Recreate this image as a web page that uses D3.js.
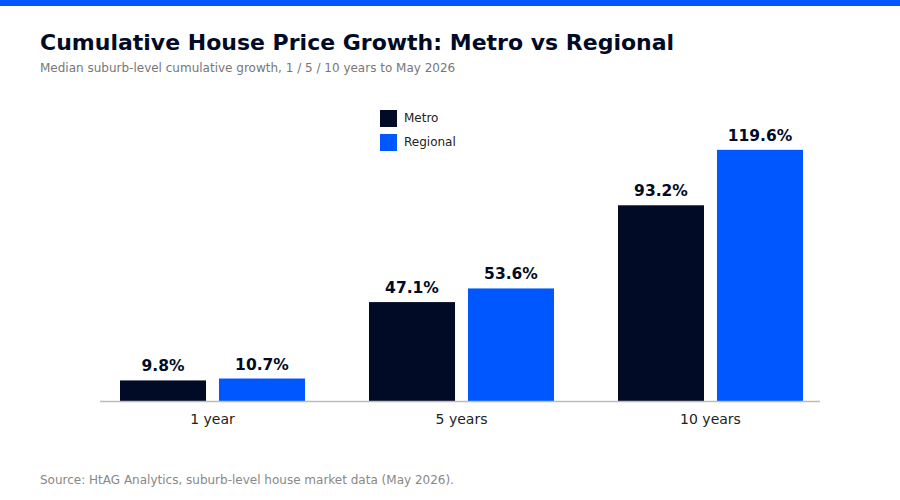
<!DOCTYPE html>
<html>
<head>
<meta charset="utf-8">
<script src="https://cdnjs.cloudflare.com/ajax/libs/d3/7.8.5/d3.min.js"></script>
<style>
  body { margin: 0; background: #fff; }
  text { font-family: "DejaVu Sans", sans-serif; }
</style>
</head>
<body>
<div id="chart"></div>
<script>
// data
var periods = ["1 year", "5 years", "10 years"];
var seriesNames = ["Metro", "Regional"];
var metro = [9.8, 47.1, 93.2];
var regional = [10.7, 53.6, 119.6];
var colors = ["#020b26", "#0057ff"];

var W = 900, H = 500;
var svg = d3.select("#chart").append("svg")
  .attr("width", W).attr("height", H);

svg.append("rect").attr("x", 0).attr("y", 0).attr("width", W).attr("height", 6)
  .attr("fill", "#0057ff");

svg.append("text").attr("x", 40).attr("y", 50)
  .attr("font-size", 22).attr("font-weight", "bold").attr("fill", "#020b26")
  .text("Cumulative House Price Growth: Metro vs Regional");
svg.append("text").attr("x", 40).attr("y", 72)
  .attr("font-size", 12).attr("fill", "#777")
  .text("Median suburb-level cumulative growth, 1 / 5 / 10 years to May 2026");

var rows = periods.map(function(p, i){
  return { period: p, values: [metro[i], regional[i]] };
});

var baseY = 401;
var x0 = d3.scaleBand().domain(periods).range([101.5, 821.5])
  .paddingInner(0.257).paddingOuter(0.0743);
var x1 = d3.scaleBand().domain(seriesNames).range([0, x0.bandwidth()])
  .paddingInner(0.131);
var y = d3.scaleLinear().domain([0, 130]).range([baseY, baseY - 273]);

var g = svg.selectAll("g.grp").data(rows).enter().append("g")
  .attr("class", "grp")
  .attr("transform", function(d){ return "translate(" + x0(d.period) + ",0)"; });

g.selectAll("rect").data(function(d){
    return d.values.map(function(v, j){ return { name: seriesNames[j], v: v, c: colors[j] }; });
  }).enter().append("rect")
  .attr("x", function(d){ return x1(d.name); })
  .attr("y", function(d){ return y(d.v); })
  .attr("width", x1.bandwidth())
  .attr("height", function(d){ return baseY - y(d.v); })
  .attr("fill", function(d){ return d.c; });

g.selectAll("text.val").data(function(d){
    return d.values.map(function(v, j){ return { name: seriesNames[j], v: v }; });
  }).enter().append("text")
  .attr("class", "val")
  .attr("x", function(d){ return x1(d.name) + x1.bandwidth() / 2; })
  .attr("y", function(d){ return y(d.v) - 9; })
  .attr("text-anchor", "middle")
  .attr("font-size", 15.5).attr("font-weight", "bold").attr("fill", "#020b26")
  .text(function(d){ return d.v.toFixed(1) + "%"; });

// x axis
var xAxis = svg.append("g").attr("transform", "translate(0," + baseY + ")")
  .call(d3.axisBottom(x0).tickSize(0).tickPadding(13));
xAxis.select(".domain").attr("d", "M100,0.5H820").attr("stroke", "#bbb").attr("stroke-width", 1.5);
xAxis.selectAll("text").attr("font-size", 14).attr("fill", "#222")
  .attr("font-family", "DejaVu Sans, sans-serif");

// legend
var leg = svg.append("g").attr("transform", "translate(380,110)");
seriesNames.forEach(function(n, i){
  leg.append("rect").attr("x", 0).attr("y", i * 24).attr("width", 17).attr("height", 17)
    .attr("fill", colors[i]);
  leg.append("text").attr("x", 24).attr("y", i * 24 + 12)
    .attr("font-size", 12).attr("fill", "#222").text(n);
});

svg.append("text").attr("x", 40).attr("y", 484)
  .attr("font-size", 12).attr("fill", "#888")
  .text("Source: HtAG Analytics, suburb-level house market data (May 2026).");
</script>
</body>
</html>
